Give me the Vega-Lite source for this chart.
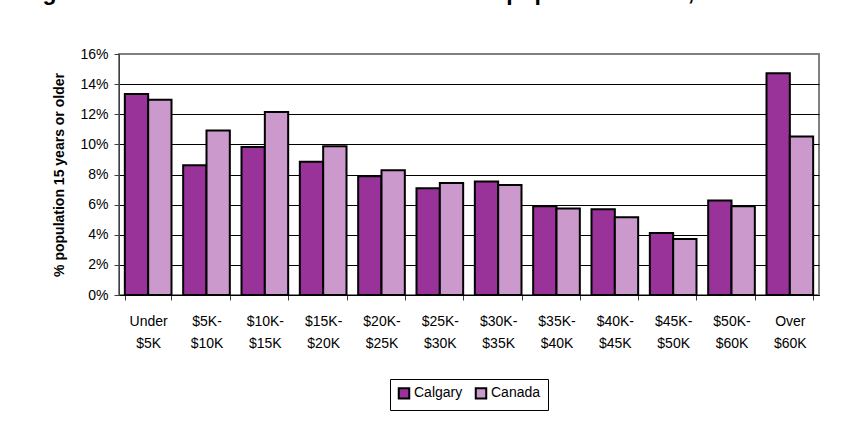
{
  "$schema": "https://vega.github.io/schema/vega-lite/v6.json",
  "autosize": {"type": "none"},
  "width": 700,
  "height": 241,
  "padding": {"left": 119, "top": 54, "right": 33, "bottom": 129},
  "background": "white",
  "title": {
    "text": "Figure 10.2 - Distribution of total income for pop. 15 and over, 2000",
    "anchor": "start",
    "frame": "group",
    "font": "Liberation Sans",
    "fontSize": 23,
    "fontWeight": "bold",
    "color": "black",
    "baseline": "alphabetic",
    "offset": 0,
    "dx": -97,
    "dy": -24
  },
  "data": {
    "values": [
      {"income": "Under $5K", "region": "Calgary", "share": 0.1335},
      {"income": "Under $5K", "region": "Canada", "share": 0.1297},
      {"income": "$5K- $10K", "region": "Calgary", "share": 0.0862},
      {"income": "$5K- $10K", "region": "Canada", "share": 0.1092},
      {"income": "$10K- $15K", "region": "Calgary", "share": 0.0983},
      {"income": "$10K- $15K", "region": "Canada", "share": 0.1215},
      {"income": "$15K- $20K", "region": "Calgary", "share": 0.0884},
      {"income": "$15K- $20K", "region": "Canada", "share": 0.0988},
      {"income": "$20K- $25K", "region": "Calgary", "share": 0.0789},
      {"income": "$20K- $25K", "region": "Canada", "share": 0.0829},
      {"income": "$25K- $30K", "region": "Calgary", "share": 0.0709},
      {"income": "$25K- $30K", "region": "Canada", "share": 0.0743},
      {"income": "$30K- $35K", "region": "Calgary", "share": 0.0754},
      {"income": "$30K- $35K", "region": "Canada", "share": 0.0731},
      {"income": "$35K- $40K", "region": "Calgary", "share": 0.0590},
      {"income": "$35K- $40K", "region": "Canada", "share": 0.0575},
      {"income": "$40K- $45K", "region": "Calgary", "share": 0.0570},
      {"income": "$40K- $45K", "region": "Canada", "share": 0.0517},
      {"income": "$45K- $50K", "region": "Calgary", "share": 0.0411},
      {"income": "$45K- $50K", "region": "Canada", "share": 0.0371},
      {"income": "$50K- $60K", "region": "Calgary", "share": 0.0628},
      {"income": "$50K- $60K", "region": "Canada", "share": 0.0590},
      {"income": "Over $60K", "region": "Calgary", "share": 0.1472},
      {"income": "Over $60K", "region": "Canada", "share": 0.1052}
    ]
  },
  "mark": {"type": "bar", "stroke": "black", "strokeWidth": 2},
  "encoding": {
    "x": {
      "field": "income",
      "type": "nominal",
      "sort": null,
      "scale": {"paddingInner": 0.2, "paddingOuter": 0.1},
      "axis": {
        "title": null,
        "labelAngle": 0,
        "labelExpr": "split(datum.label, ' ')",
        "labelLineHeight": 22.5,
        "labelFont": "Liberation Sans",
        "labelFontSize": 14,
        "labelColor": "black",
        "labelPadding": 14,
        "tickBand": "extent",
        "tickSize": 5,
        "tickColor": "#404040",
        "domainColor": "black",
        "grid": false
      }
    },
    "xOffset": {"field": "region", "type": "nominal"},
    "y": {
      "field": "share",
      "type": "quantitative",
      "scale": {"domain": [0, 0.16], "nice": false},
      "axis": {
        "title": "% population 15 years or older",
        "titleFont": "Liberation Sans",
        "titleFontSize": 14,
        "titleFontWeight": "bold",
        "titleColor": "black",
        "titlePadding": 13,
        "format": ".0%",
        "values": [0, 0.02, 0.04, 0.06, 0.08, 0.1, 0.12, 0.14, 0.16],
        "labelFont": "Liberation Sans",
        "labelFontSize": 14,
        "labelColor": "black",
        "labelPadding": 6,
        "tickSize": 5,
        "tickColor": "#404040",
        "domainColor": "#404040",
        "gridColor": {"condition": {"test": "datum.value >= 0.16", "value": "#808080"}, "value": "black"},
        "gridOpacity": 1,
        "gridWidth": 1
      }
    },
    "fill": {
      "field": "region",
      "type": "nominal",
      "scale": {"domain": ["Calgary", "Canada"], "range": ["#993399", "#CC99CC"]},
      "legend": {
        "title": null,
        "orient": "bottom",
        "direction": "horizontal",
        "strokeColor": "black",
        "padding": 7,
        "offset": 28,
        "symbolType": "square",
        "symbolSize": 110,
        "symbolStrokeColor": "black",
        "symbolStrokeWidth": 2,
        "symbolOpacity": 1,
        "labelFont": "Liberation Sans",
        "labelFontSize": 14,
        "labelColor": "black",
        "columnPadding": 8,
        "labelOffset": 3
      }
    }
  },
  "config": {
    "view": {"stroke": "#808080", "strokeWidth": 2},
    "legend": {"layout": {"bottom": {"anchor": "middle"}}}
  }
}
